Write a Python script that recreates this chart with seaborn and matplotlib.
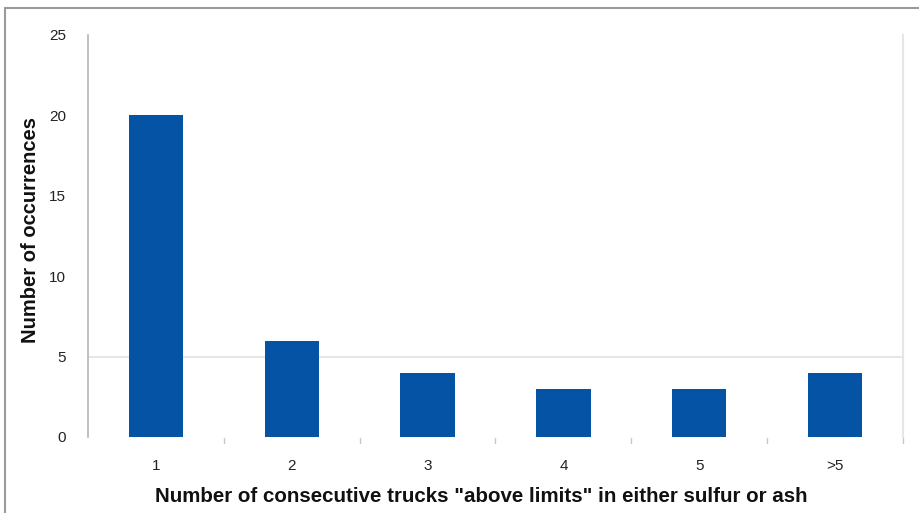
import matplotlib
matplotlib.use("Agg")
import matplotlib.pyplot as plt
import seaborn as sns
import pandas as pd
from matplotlib.patches import Rectangle

categories = ["1", "2", "3", "4", "5", ">5"]
occurrences = [20, 6, 4, 3, 3, 4]
y_ticks = [0, 5, 10, 15, 20, 25]

sns.set_theme(style="white")
plt.rcParams["font.family"] = ["Liberation Sans", "DejaVu Sans"]

df = pd.DataFrame({"run": categories, "count": occurrences})

fig = plt.figure(figsize=(9.2, 5.13), dpi=100)
ax = fig.add_axes([88 / 920, 1 - 437 / 513, (903 - 88) / 920, (437 - 35) / 513])

sns.barplot(data=df, x="run", y="count", color="#0553A5", saturation=1,
            width=0.4, ax=ax, edgecolor="none")

ax.set_xlim(-0.5, 5.5)
ax.set_ylim(0, 25)
ax.set_yticks(y_ticks)
ax.tick_params(axis="y", labelsize=11, colors="#222222", length=0, pad=16)
ax.tick_params(axis="x", labelsize=11, colors="#222222", length=0, pad=16)

# faint reference line at 5
ax.axhline(5, color="#e2e2e2", lw=1.2, zorder=0)

# category separator ticks below the baseline
for b in [0.5, 1.5, 2.5, 3.5, 4.5, 5.5]:
    ax.plot([b, b], [-0.05, -0.35], color="#c8c8c8", lw=1, clip_on=False)

for side in ["top", "bottom"]:
    ax.spines[side].set_visible(False)
ax.spines["left"].set_color("#b5b5b5")
ax.spines["left"].set_linewidth(1.2)
ax.spines["right"].set_color("#e6e6e6")
ax.spines["right"].set_linewidth(1.5)

ax.set_xlabel('Number of consecutive trucks "above limits" in either sulfur or ash',
              fontsize=14.8, fontweight="bold", color="#111111")
ax.set_ylabel("Number of occurrences", fontsize=14.5, fontweight="bold",
              color="#111111")
ax.xaxis.set_label_coords((481 - 88) / 815, -(497 - 437) / 402, transform=ax.transAxes)
ax.xaxis.label.set_va("center")
ax.yaxis.set_label_coords(-(88 - 31) / 815, (437 - 230) / 402, transform=ax.transAxes)
ax.yaxis.label.set_va("center")

# outer frame
fig.add_artist(Rectangle((5 / 920, -0.05), 1.1, 1 - 8 / 513 + 0.05,
                         transform=fig.transFigure, fill=False,
                         edgecolor="#9a9a9a", lw=1.5))

fig.savefig("out.png", dpi=100)
